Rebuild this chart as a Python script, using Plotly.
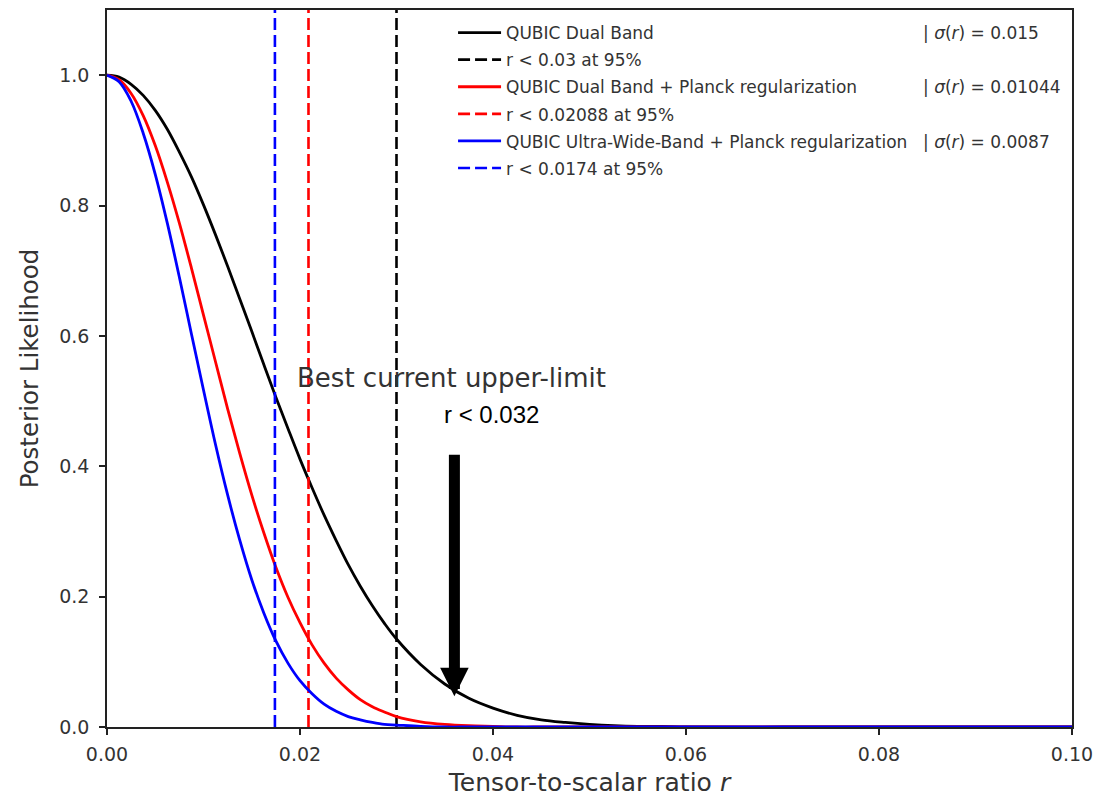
import plotly.graph_objects as go

# ---- data ----
r_grid = [0.0, 0.00125, 0.0025, 0.00375, 0.005, 0.00625, 0.0075, 0.00875, 0.01, 0.01125,
          0.0125, 0.01375, 0.015, 0.01625, 0.0175, 0.01875, 0.02, 0.02125, 0.0225, 0.02375,
          0.025, 0.02625, 0.0275, 0.02875, 0.03, 0.0325, 0.035, 0.0375, 0.04, 0.0425,
          0.045, 0.0475, 0.05, 0.0525, 0.055, 0.0575, 0.06, 0.07, 0.08, 0.09, 0.10]

like_dual = [1.000, 0.997, 0.986, 0.969, 0.946, 0.917, 0.882, 0.844, 0.801, 0.755,
             0.707, 0.657, 0.607, 0.556, 0.506, 0.458, 0.411, 0.367, 0.325, 0.286,
             0.249, 0.216, 0.186, 0.159, 0.135, 0.096, 0.066, 0.044, 0.029, 0.018,
             0.011, 0.007, 0.004, 0.002, 0.001, 0.001, 0.000, 0.000, 0.000, 0.000, 0.000]
like_dual_planck = [1.000, 0.993, 0.972, 0.938, 0.892, 0.836, 0.773, 0.704, 0.632, 0.560,
                    0.488, 0.420, 0.356, 0.298, 0.245, 0.199, 0.160, 0.126, 0.098, 0.075,
                    0.057, 0.042, 0.031, 0.023, 0.016, 0.008, 0.004, 0.002, 0.001, 0.000,
                    0.000, 0.000, 0.000, 0.000, 0.000, 0.000, 0.000, 0.000, 0.000, 0.000, 0.000]
like_uwb_planck = [1.000, 0.990, 0.960, 0.911, 0.848, 0.773, 0.690, 0.603, 0.517, 0.433,
                   0.356, 0.287, 0.226, 0.175, 0.132, 0.098, 0.071, 0.051, 0.035, 0.024,
                   0.016, 0.011, 0.007, 0.004, 0.003, 0.001, 0.000, 0.000, 0.000, 0.000,
                   0.000, 0.000, 0.000, 0.000, 0.000, 0.000, 0.000, 0.000, 0.000, 0.000, 0.000]

series_names = ["QUBIC Dual Band",
                "QUBIC Dual Band + Planck regularization",
                "QUBIC Ultra-Wide-Band + Planck regularization"]
sigmas = ["0.015", "0.01044", "0.0087"]
limits = [0.03, 0.02088, 0.0174]
limit_labels = ["r < 0.03 at 95%", "r < 0.02088 at 95%", "r < 0.0174 at 95%"]
colors = ["black", "red", "blue"]

best_limit = 0.032
arrow_x = 0.036
arrow_top = 0.42
arrow_tip = 0.047

x_range = [0, 0.10]
y_range = [0, 1.1]

# ---- figure ----
fig = go.Figure()
curves = [like_dual, like_dual_planck, like_uwb_planck]
k = 0
for name, vals, lim, lab, col in zip(series_names, curves, limits, limit_labels, colors):
    fig.add_trace(go.Scatter(x=r_grid, y=vals, mode="lines", name=name, legendgroup="g%d" % k,
                             line=dict(color=col, width=2.8, shape="spline", smoothing=1.0)))
    k += 1
    fig.add_trace(go.Scatter(x=[lim, lim], y=y_range, mode="lines", name=lab, legendgroup="g%d" % k,
                             line=dict(color=col, width=2.6, dash="12px,5px")))
    k += 1

font_main = "DejaVu Sans"
fig.update_layout(
    width=1101, height=789,
    margin=dict(l=99, r=37, t=0, b=70),
    paper_bgcolor="white", plot_bgcolor="white",
    font=dict(family=font_main, color="#333333", size=19),
    showlegend=True,
    legend=dict(x=0.3586, y=0.993, xanchor="left", yanchor="top",
                bgcolor="rgba(0,0,0,0)", borderwidth=0, itemwidth=43,
                font=dict(family=font_main, size=17, color="#333333"),
                tracegroupgap=2),
)
axis_common = dict(showline=True, linecolor="#222222", linewidth=1.5, mirror=True,
                   ticks="outside", ticklen=6, tickwidth=1.5, tickcolor="#222222",
                   showgrid=False, zeroline=False)
fig.update_xaxes(range=x_range, tickvals=[0, 0.02, 0.04, 0.06, 0.08, 0.10],
                 ticktext=["0.00", "0.02", "0.04", "0.06", "0.08", "0.10"], ticklabelstandoff=3,
                 title=dict(text="Tensor-to-scalar ratio <i>r</i>", font=dict(size=25), standoff=12),
                 **axis_common)
fig.update_yaxes(range=y_range, tickvals=[0, 0.2, 0.4, 0.6, 0.8, 1.0],
                 ticktext=["0.0", "0.2", "0.4", "0.6", "0.8", "1.0"], ticklabelstandoff=6,
                 title=dict(text="Posterior Likelihood", font=dict(size=24.5), standoff=14),
                 **axis_common)

# sigma annotations aligned with legend rows
sig_y = [0.9673, 0.8922, 0.8157]
for s, yy in zip(sigmas, sig_y):
    fig.add_annotation(xref="paper", yref="paper", x=0.8435, y=yy, xanchor="left", yanchor="middle",
                       text="| <i>σ</i>(<i>r</i>) = " + s, showarrow=False,
                       font=dict(family=font_main, size=17, color="#333333"))

fig.add_annotation(x=0.03565, y=0.535, xref="x", yref="y", text="Best current upper-limit",
                   showarrow=False, font=dict(family=font_main, size=26, color="#333333"))
fig.add_annotation(x=0.0398, y=0.48, xref="x", yref="y", text="r < " + str(best_limit),
                   showarrow=False, font=dict(family="Liberation Sans", size=24, color="black"))
fig.add_annotation(x=arrow_x, y=arrow_tip, xref="x", yref="y",
                   ax=arrow_x, ay=arrow_top, axref="x", ayref="y",
                   text="", showarrow=True, arrowhead=2, arrowsize=0.52,
                   arrowwidth=11, arrowcolor="black")

fig.write_html("out.html")
